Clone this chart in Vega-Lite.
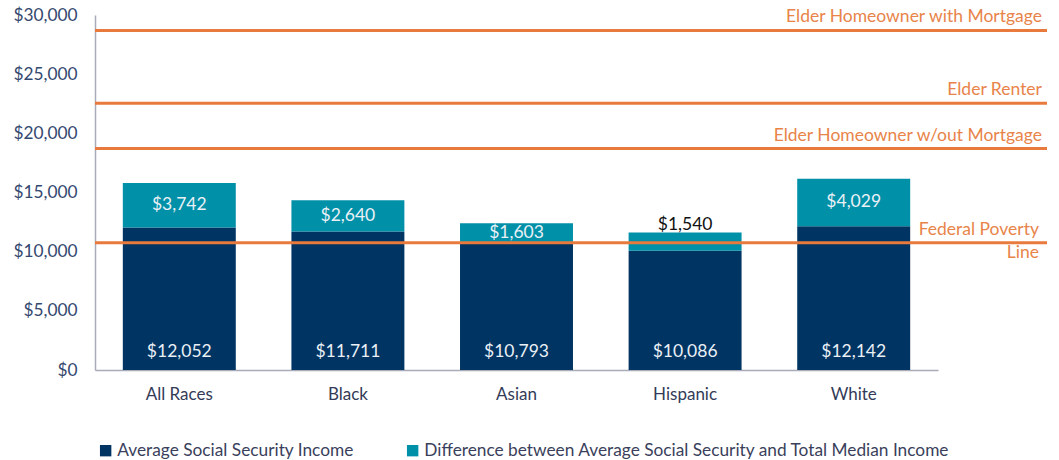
{
  "$schema": "https://vega.github.io/schema/vega-lite/v6.json",
  "width": 952,
  "height": 355,
  "autosize": {"type": "none"},
  "padding": {"left": 95, "top": 15, "right": 12, "bottom": 90},
  "background": "white",
  "config": {
    "view": {"stroke": null},
    "font": "Lato",
    "axis": {"labelFont": "Lato", "grid": false, "ticks": false, "domainColor": "#A9ABB8", "domainWidth": 1.5}
  },
  "datasets": {
    "bars": [
      {"race": "All Races", "avg": 12052, "diff": 3742},
      {"race": "Black", "avg": 11711, "diff": 2640},
      {"race": "Asian", "avg": 10793, "diff": 1603},
      {"race": "Hispanic", "avg": 10086, "diff": 1540},
      {"race": "White", "avg": 12142, "diff": 4029}
    ],
    "lines": [
      {"name": "Elder Homeowner with  Mortgage", "value": 28700, "kind": "elder"},
      {"name": "Elder Renter", "value": 22550, "kind": "elder"},
      {"name": "Elder Homeowner w/out  Mortgage", "value": 18710, "kind": "elder"},
      {"name": "Federal Poverty\nLine", "value": 10760, "kind": "fpl"}
    ]
  },
  "layer": [
    {
      "data": {"name": "bars"},
      "transform": [{"fold": ["avg", "diff"], "as": ["series", "value"]}],
      "mark": {"type": "bar"},
      "encoding": {
        "x": {
          "field": "race", "type": "nominal", "sort": null,
          "scale": {"range": [0, 843], "paddingInner": 0.33, "paddingOuter": 0.165},
          "axis": {"title": null, "labelAngle": 0, "labelFontSize": 17, "labelColor": "#333B58", "labelPadding": 16}
        },
        "y": {
          "field": "value", "type": "quantitative", "stack": "zero",
          "scale": {"domain": [0, 30000], "nice": false},
          "axis": {"title": null, "values": [0, 5000, 10000, 15000, 20000, 25000, 30000], "format": "$,.0f", "labelFontSize": 17.3, "labelColor": "#34496F", "labelPadding": 18}
        },
        "color": {
          "field": "series", "type": "nominal",
          "scale": {"domain": ["avg", "diff"], "range": ["#003462", "#0090A8"]},
          "legend": {
            "title": null, "orient": "none", "direction": "horizontal", "legendX": 2, "legendY": 427,
            "symbolType": "square", "symbolSize": 130, "symbolStrokeWidth": 0, "symbolOffset": 0,
            "labelFontSize": 17.3, "labelColor": "#3A3F5C", "labelOffset": 3, "columnPadding": 50,
            "labelLimit": 800,
            "labelExpr": "datum.label == 'avg' ? 'Average Social Security Income' : 'Difference between Average Social Security and Total  Median Income'"
          }
        },
        "order": {"field": "series", "sort": "ascending"}
      }
    },
    {
      "data": {"name": "lines"},
      "mark": {"type": "rule", "color": "#E97A3D", "strokeWidth": 3},
      "encoding": {"y": {"field": "value", "type": "quantitative"}}
    },
    {
      "data": {"name": "lines"},
      "transform": [{"filter": "datum.kind == 'elder'"}],
      "mark": {"type": "text", "align": "right", "baseline": "bottom", "dx": -5, "dy": -4, "fontSize": 17.5, "color": "#E8844A"},
      "encoding": {
        "x": {"value": "width"},
        "y": {"field": "value", "type": "quantitative"},
        "text": {"field": "name"}
      }
    },
    {
      "data": {"name": "lines"},
      "transform": [{"filter": "datum.kind == 'fpl'"}],
      "mark": {"type": "text", "align": "right", "baseline": "middle", "dx": -8, "dy": -13, "fontSize": 17.5, "color": "#E8844A", "lineBreak": "\n", "lineHeight": 23},
      "encoding": {
        "x": {"value": "width"},
        "y": {"field": "value", "type": "quantitative"},
        "text": {"field": "name"}
      }
    },
    {
      "data": {"name": "bars"},
      "mark": {"type": "text", "baseline": "middle", "dy": -18, "fontSize": 17.5, "color": "#EAF0F6"},
      "encoding": {
        "x": {"field": "race", "type": "nominal", "sort": null},
        "y": {"datum": 0, "type": "quantitative"},
        "text": {"field": "avg", "type": "quantitative", "format": "$,.0f"}
      }
    },
    {
      "data": {"name": "bars"},
      "transform": [
        {"fold": ["avg", "diff"], "as": ["series", "value"]},
        {"stack": "value", "groupby": ["race"], "sort": [{"field": "series", "order": "ascending"}], "as": ["v0", "v1"]},
        {"filter": "datum.series == 'diff' && datum.race != 'Hispanic'"},
        {"fold": ["v0", "v1"], "as": ["edge", "pos"]}
      ],
      "mark": {"type": "text", "baseline": "middle", "fontSize": 17.5, "color": "#EAF0F6"},
      "encoding": {
        "x": {"field": "race", "type": "nominal", "sort": null},
        "y": {"aggregate": "mean", "field": "pos", "type": "quantitative"},
        "text": {"aggregate": "max", "field": "diff", "type": "quantitative", "format": "$,.0f"}
      }
    },
    {
      "data": {"name": "bars"},
      "transform": [
        {"fold": ["avg", "diff"], "as": ["series", "value"]},
        {"stack": "value", "groupby": ["race"], "sort": [{"field": "series", "order": "ascending"}], "as": ["v0", "v1"]},
        {"filter": "datum.series == 'diff' && datum.race == 'Hispanic'"}
      ],
      "mark": {"type": "text", "baseline": "alphabetic", "dy": -2, "fontSize": 17.5, "color": "#111111"},
      "encoding": {
        "x": {"field": "race", "type": "nominal", "sort": null},
        "y": {"field": "v1", "type": "quantitative"},
        "text": {"field": "diff", "type": "quantitative", "format": "$,.0f"}
      }
    }
  ]
}
